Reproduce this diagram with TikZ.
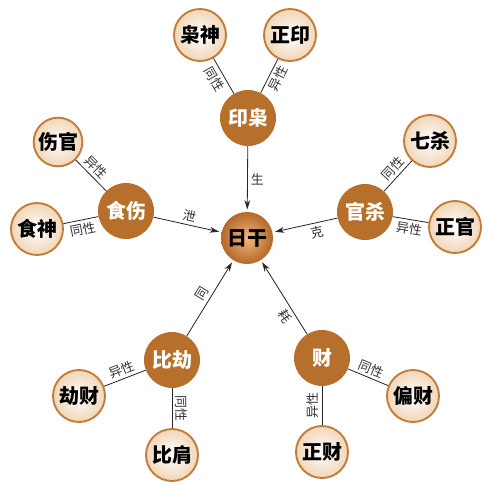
\documentclass[tikz,border=0pt]{standalone}
\usepackage{fontspec}
\newfontfamily\cjk{Noto Sans CJK SC}
\usetikzlibrary{arrows.meta}

\definecolor{groupfill}{RGB}{183,112,44}
\definecolor{leafrim}{RGB}{194,124,58}
\definecolor{leafout}{RGB}{240,214,184}
\definecolor{dayin}{RGB}{242,184,126}
\definecolor{dayout}{RGB}{178,104,40}

\begin{document}
\begin{tikzpicture}[
    x=0.03cm, y=-0.03cm,
    day/.style={circle, inner sep=0pt, minimum size=1.56cm, shading=radial, inner color=dayin, outer color=dayout, font=\cjk\bfseries\fontsize{17}{17}\selectfont},
    group/.style={circle, inner sep=0pt, minimum size=1.68cm, fill=groupfill, text=white, font=\cjk\bfseries\fontsize{17}{17}\selectfont},
    leaf/.style={circle, inner sep=0pt, minimum size=1.56cm, draw=leafrim, line width=1.6pt, shading=radial, inner color=white, outer color=leafout, font=\cjk\bfseries\fontsize{17}{17}\selectfont},
    tie/.style={line width=0.7pt, draw=black!85},
    arrow/.style={-{Stealth[length=8pt, width=5pt]}, line width=0.7pt, draw=black!85, shorten >=2pt},
    lbl/.style={font=\cjk\fontsize{11}{11}\selectfont, text=black!80, inner sep=2.5pt}
]
    \useasboundingbox (0,0) rectangle (495,501);

    % centre
    \node [day] (day) at (247,238) {日干};

    % groups
    \node [group] (yin)  at (248,118) {印枭};
    \node [group] (shi)  at (126,211) {食伤};
    \node [group] (guan) at (365,212) {官杀};
    \node [group] (bi)   at (172,360) {比劫};
    \node [group] (cai)  at (322,358) {财};

    % leaves
    \node [leaf] (xiao)       at (200,35)  {枭神};
    \node [leaf] (zhengyin)   at (290,35)  {正印};
    \node [leaf, minimum size=1.46cm] (shangguan) at (58,142) {伤官};
    \node [leaf] (shishen)    at (37,229)  {食神};
    \node [leaf] (qisha)      at (430,141) {七杀};
    \node [leaf] (zhengguan)  at (455,227) {正官};
    \node [leaf] (jiecai)     at (79,396)  {劫财};
    \node [leaf] (bijian)     at (172,455) {比肩};
    \node [leaf] (piancai)    at (413,396) {偏财};
    \node [leaf] (zhengcai)   at (322,452) {正财};

    % leaf ties
    \draw [tie] (xiao) -- node [lbl, sloped, below, pos=0.45] {同性} (yin);
    \draw [tie] (yin) -- node [lbl, sloped, below, pos=0.55] {异性} (zhengyin);
    \draw [tie] (shangguan) -- node [lbl, sloped, above, pos=0.45] {异性} (shi);
    \draw [tie] (shishen) -- node [lbl, sloped, below] {同性} (shi);
    \draw [tie] (guan) -- node [lbl, sloped, above, pos=0.55] {同性} (qisha);
    \draw [tie] (guan) -- node [lbl, sloped, below] {异性} (zhengguan);
    \draw [tie] (jiecai) -- node [lbl, sloped, above] {异性} (bi);
    \draw [tie] (bi) -- node [lbl, sloped, allow upside down, above] {同性} (bijian);
    \draw [tie] (cai) -- node [lbl, sloped, above] {同性} (piancai);
    \draw [tie] (zhengcai) -- node [lbl, sloped, allow upside down, above] {异性} (cai);

    % arrows into the centre
    \draw [arrow] (yin) -- node [lbl, right] {生} (day);
    \draw [arrow] (shi) -- node [lbl, sloped, above] {泄} (day);
    \draw [arrow] (guan) -- node [lbl, sloped, below, pos=0.35] {克} (day);
    \draw [arrow] (bi) -- node [lbl, sloped, above] {同} (day);
    \draw [arrow] (cai) -- node [lbl, sloped, below, pos=0.3] {耗} (day);
\end{tikzpicture}
\end{document}
